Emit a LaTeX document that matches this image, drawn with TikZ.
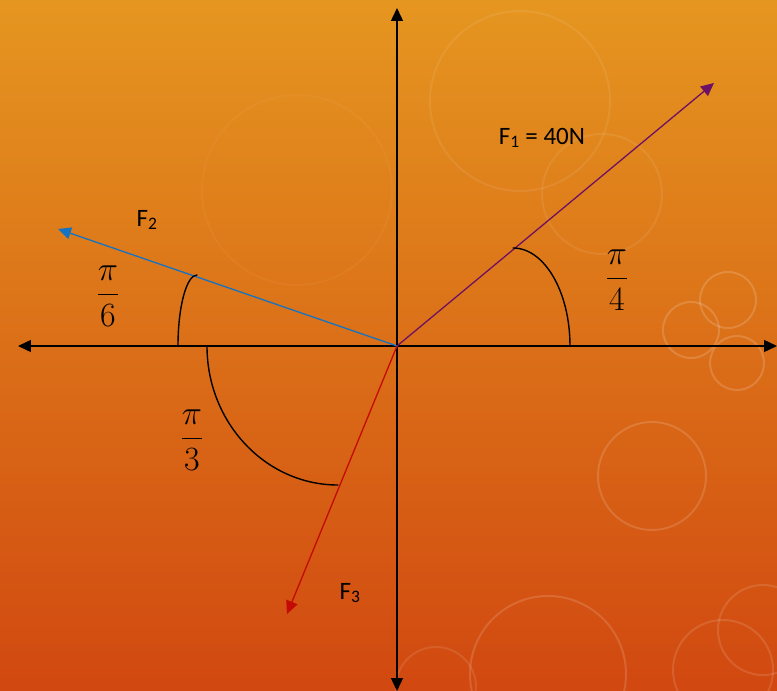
\documentclass[tikz,border=0pt]{standalone}
\usepackage{fix-cm}
\usepackage{amsmath}
\usepackage{fontspec}
\setmainfont{Carlito}
\usetikzlibrary{arrows.meta}
\definecolor{bgtop}{RGB}{229,150,32}
\definecolor{bgbot}{RGB}{209,72,16}
\definecolor{fonecol}{RGB}{110,16,100}
\definecolor{ftwocol}{RGB}{20,115,195}
\definecolor{fthreecol}{RGB}{195,10,5}
\tikzset{
  axis/.style={line width=1.4pt, black, <->},
  force/.style={line width=1.3pt, ->},
  anglearc/.style={line width=1.4pt, black},
  bubble/.style={white, line width=2pt},
  fraclabel/.style={font=\fontsize{34}{40}\selectfont, inner sep=0pt}
}
\begin{document}
\begin{tikzpicture}[x=1pt, y=1pt, >={Triangle[length=13pt,width=12pt]}, line join=round, line cap=round, font=\fontsize{25}{28}\selectfont]
  \def\xmin{-397} \def\xmax{380}  \def\ymin{-345}\def\ymax{346}
  % background
  \shade[top color=bgtop, bottom color=bgbot] (\xmin,\ymin) rectangle (\xmax,\ymax);
  \useasboundingbox (\xmin,\ymin) rectangle (\xmax,\ymax);
  \begin{scope}
    \clip (\xmin,\ymin) rectangle (\xmax,\ymax);
    \foreach \cx/\cy/\r/\op in {123/245/90/0.08, 205/152/60/0.08, -100/156/95/0.04, 331/46/28/0.16, 294/16/28/0.16, 340/-17/27/0.16, 255/-130/54/0.14, 151/-328/78/0.14, 366/-284/45/0.12, 326/-324/50/0.12, 39/-341/40/0.1}
      \draw[bubble, opacity=\op] (\cx,\cy) circle (\r);
  \end{scope}
  % axes
  \coordinate (O) at (0,0);
  \coordinate (xl) at (-379,0);
  \coordinate (xr) at (\xmax,0);
  \coordinate (yt) at (0,338);
  \coordinate (yb) at (0,\ymin);
  \draw[axis] (xl) -- (xr);
  \draw[axis] (yb) -- (yt);
  % forces
  \coordinate (F1) at (317,263);
  \coordinate (F2) at (-339,117);
  \coordinate (F3) at (-110,-268);
  \draw[force, fonecol] (O) -- (F1);
  \draw[force, ftwocol] (O) -- (F2);
  \draw[force, fthreecol] (O) -- (F3);
  % angles
  \coordinate (a4) at (173,0);
  \coordinate (a6) at (-219,0);
  \coordinate (a3) at (-190,0);
  \draw[anglearc] (a4) arc[start angle=0, end angle=90, x radius=57, y radius=98];
  \draw[anglearc] (a6) arc[start angle=180, end angle=90, x radius=19, y radius=71];
  \draw[anglearc] (a3) arc[start angle=180, end angle=270, x radius=131, y radius=139];
  % labels
  \node (lone) at (145,208) {F\textsubscript{1} = 40N};
  \node (ltwo) at (-250,126) {F\textsubscript{2}};
  \node (lthree) at (-47,-247) {F\textsubscript{3}};
  \node[fraclabel] (pfour) at (220,66) {$\dfrac{\pi}{4}$};
  \node[fraclabel] (psix) at (-289,50) {$\dfrac{\pi}{6}$};
  \node[fraclabel] (pthree) at (-205,-94) {$\dfrac{\pi}{3}$};
\end{tikzpicture}
\end{document}
